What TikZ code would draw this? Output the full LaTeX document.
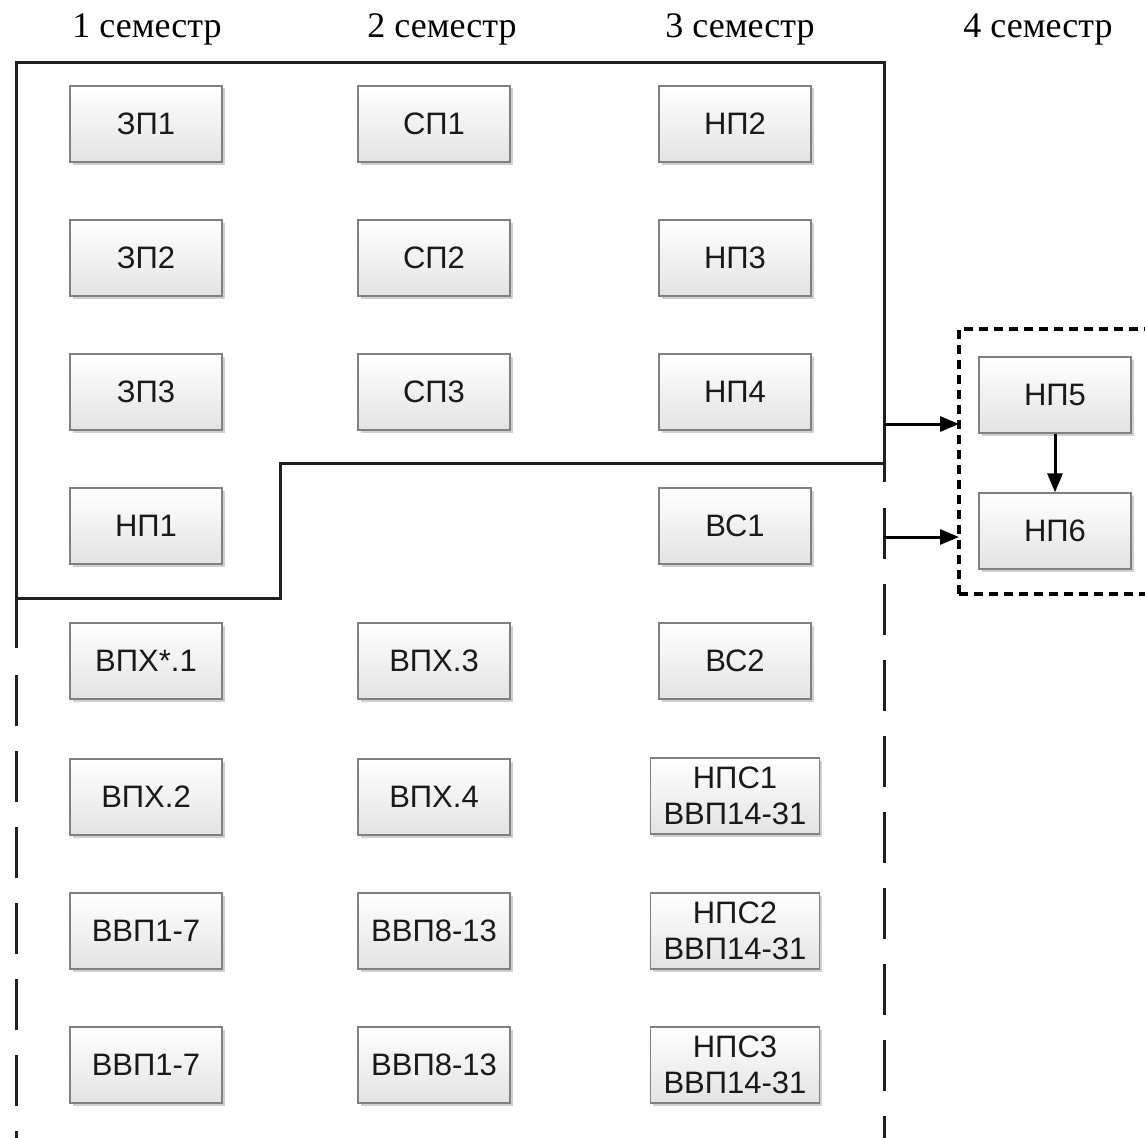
\documentclass[tikz,border=0pt]{standalone}
\usepackage{fontspec}
\setmainfont{Liberation Serif}
\newfontfamily\boxfont{Liberation Sans}
\usetikzlibrary{shadows,arrows.meta}
\tikzset{
  blk/.style={draw=black!50, line width=1.3pt, top color=white, bottom color=black!11,
    minimum width=152pt, minimum height=76pt, inner sep=0pt, text=black!90,
    font=\boxfont\fontsize{31}{36}\selectfont, align=center,
    drop shadow={shadow xshift=2.5pt, shadow yshift=-2.5pt, opacity=0.3, fill=black!60}},
  wideblk/.style={blk, minimum width=169pt},
  hdr/.style={font=\fontsize{36}{40}\selectfont, anchor=base},
  bound/.style={line width=3pt, black!88},
  bounddash/.style={bound, dash pattern=on 51pt off 25pt},
  dotframe/.style={line width=4pt, black, dash pattern=on 9pt off 6pt},
  arr/.style={line width=3pt, black, -{Triangle[length=19pt,width=15pt]}}
}
\begin{document}
\begin{tikzpicture}[x=1pt,y=-1pt]
\clip (0,0) rectangle (1145,1137);
\fill[white] (0,0) rectangle (1145,1137);
% headers
\node[hdr] (h1) at (147,38) {1 семестр};
\node[hdr] (h2) at (442,38) {2 семестр};
\node[hdr] (h3) at (740,38) {3 семестр};
\node[hdr] (h4) at (1038,38) {4 семестр};
% boundary lines
\draw[bound] (16,648) -- (16,63) -- (884,63) -- (884,482);
\draw[bound] (884,463) -- (280,463) -- (280,598) -- (16,598);
\draw[bounddash] (16,675) -- (16,1140);
\draw[bounddash] (884,508) -- (884,1140);
% dotted frame
\draw[dotframe] (959,594) -- (959,329) -- (1160,329);
\draw[dotframe] (959,594) -- (1160,594);
% column 1
\node[blk] (zp1) at (146,124) {ЗП1};
\node[blk] (zp2) at (146,258) {ЗП2};
\node[blk] (zp3) at (146,392) {ЗП3};
\node[blk] (np1) at (146,526) {НП1};
\node[blk] (vph1) at (146,661) {ВПХ*.1};
\node[blk] (vph2) at (146,797) {ВПХ.2};
\node[blk] (vvp17a) at (146,931) {ВВП1-7};
\node[blk] (vvp17b) at (146,1065) {ВВП1-7};
% column 2
\node[blk] (sp1) at (434,124) {СП1};
\node[blk] (sp2) at (434,258) {СП2};
\node[blk] (sp3) at (434,392) {СП3};
\node[blk] (vph3) at (434,661) {ВПХ.3};
\node[blk] (vph4) at (434,797) {ВПХ.4};
\node[blk] (vvp813a) at (434,931) {ВВП8-13};
\node[blk] (vvp813b) at (434,1065) {ВВП8-13};
% column 3
\node[blk] (np2) at (735,124) {НП2};
\node[blk] (np3) at (735,258) {НП3};
\node[blk] (np4) at (735,392) {НП4};
\node[blk] (vs1) at (735,526) {ВС1};
\node[blk] (vs2) at (735,661) {ВС2};
\node[wideblk] (nps1) at (735,796) {НПС1\\ВВП14-31};
\node[wideblk] (nps2) at (735,931) {НПС2\\ВВП14-31};
\node[wideblk] (nps3) at (735,1065) {НПС3\\ВВП14-31};
% column 4
\node[blk] (np5) at (1055,395) {НП5};
\node[blk] (np6) at (1055,531) {НП6};
% arrows
\coordinate (a1s) at (884,424);
\coordinate (a1e) at (959,424);
\coordinate (a2s) at (884,537);
\coordinate (a2e) at (959,537);
\draw[bound] (884,508) -- (884,558);
\draw[arr] (a1s) -- (a1e);
\draw[arr] (a2s) -- (a2e);
\draw[arr] (np5) -- (np6);
\end{tikzpicture}
\end{document}
